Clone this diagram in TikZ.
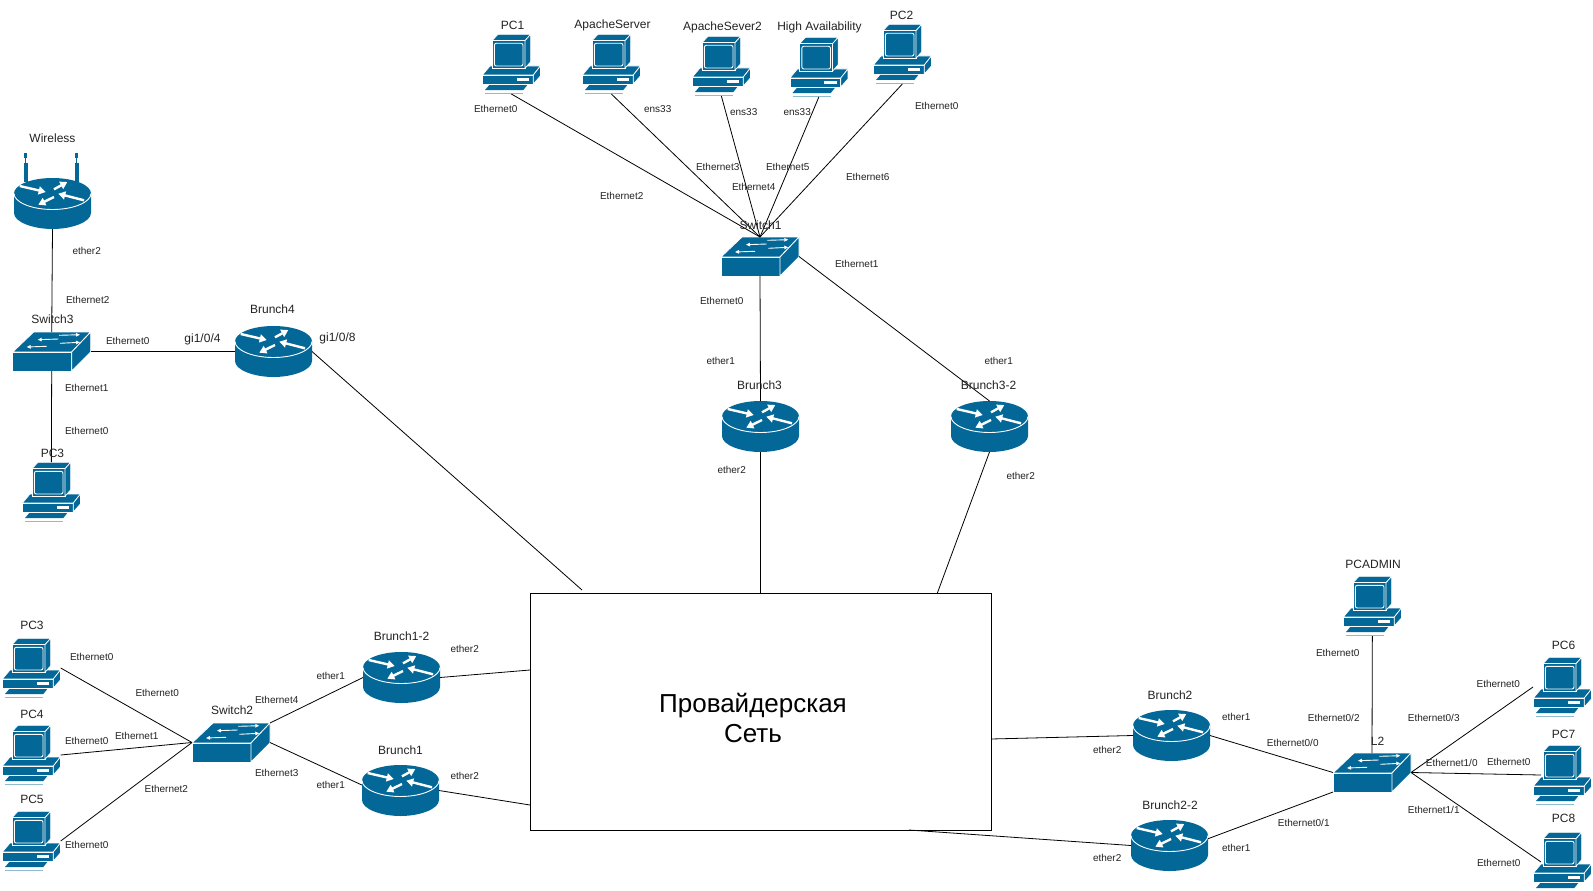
\documentclass[tikz,border=0pt]{standalone}
\usepackage{fontspec}
\setmainfont{Liberation Sans}
\usetikzlibrary{arrows.meta,calc}
\definecolor{cisco}{HTML}{036897}
\definecolor{inktext}{HTML}{222222}
\newcommand{\drawrouter}{%
\fill[cisco] (0,15.5) .. controls (0,7) and (17,0) .. (38.5,0) .. controls (60,0) and (77,7) .. (77,15.5) -- (77,35) .. controls (77,44) and (58,51) .. (38.5,51) .. controls (19,51) and (0,44) .. (0,35) -- cycle;
\draw[white,line width=0.9pt] (0,15.5) .. controls (0,24) and (17,31.5) .. (38.5,31.5) .. controls (60,31.5) and (77,24) .. (77,15.5);
\draw[white,line width=2.4pt,-{Triangle[length=7pt,width=8pt]}] (5.7,8)--(31.7,14);
\draw[white,line width=2.4pt,-{Triangle[length=7pt,width=8pt]}] (40,11.3)--(53.3,4);
\draw[white,line width=2.4pt,-{Triangle[length=7pt,width=8pt]}] (70,22.3)--(44.3,15.7);
\draw[white,line width=2.4pt,-{Triangle[length=7pt,width=8pt]}] (40,19)--(24.3,26.7);}
\newcommand{\drawswitch}{%
\filldraw[cisco,draw=white,line width=0.8pt] (0,20)--(21,0)--(78,0)--(59,20)--cycle;
\filldraw[cisco,draw=white,line width=0.8pt] (0,20) rectangle (59,39);
\filldraw[cisco,draw=white,line width=0.8pt] (59,20)--(78,0)--(78,20)--(59,39)--cycle;
\draw[white,line width=0.9pt,-{Triangle[length=4pt,width=3.5pt]}] (45.7,7)--(25,7.7);
\draw[white,line width=0.9pt,-{Triangle[length=4pt,width=3.5pt]}] (46.3,3.3)--(67.3,2.7);
\draw[white,line width=0.9pt,-{Triangle[length=4pt,width=3.5pt]}] (47.3,11.3)--(67.3,10.3);
\draw[white,line width=0.9pt,-{Triangle[length=4pt,width=3.5pt]}] (34,14.3)--(14,15);}
\newcommand{\drawpc}{%
\filldraw[cisco,draw=white,line width=0.7pt] (0.4,41)--(8,32)--(58.4,32)--(51.3,41)--cycle;
\filldraw[cisco,draw=white,line width=0.7pt] (0.4,41) rectangle (51.3,50);
\filldraw[cisco,draw=white,line width=0.7pt] (51.3,41)--(58.4,32)--(58.4,42)--(51.3,50)--cycle;
\fill[white] (34.7,44.3) rectangle (47.3,46.7);
\fill[cisco] (3,56)--(7.3,51)--(45.3,51)--(41.3,56)--cycle;
\draw[cisco!45,line width=0.7pt] (3,59.3)--(41,59.3);
\filldraw[cisco,draw=white,line width=0.7pt] (10,6.7)--(16,0.3)--(48.7,0.3)--(43,6.7)--cycle;
\filldraw[cisco,draw=white,line width=0.7pt] (10,6.7) rectangle (43,34.3);
\filldraw[cisco,draw=white,line width=0.7pt] (43,6.7)--(48.7,0.3)--(48.7,27.7)--(43,34.3)--cycle;
\draw[white,line width=0.9pt,rounded corners=2pt] (12.3,9.3) rectangle (41,32);}
\tikzset{
pcicon/.pic={\drawpc},routericon/.pic={\drawrouter},switchicon/.pic={\drawswitch},
wifiicon/.pic={\fill[cisco] (9.5,0) rectangle (13,4.5);\fill[cisco] (60.5,0) rectangle (64,4.5);
\fill[cisco] (10.5,4.5) rectangle (12,10);\fill[cisco] (61.5,4.5) rectangle (63,10);
\fill[cisco] (9.5,10) rectangle (13.5,29);\fill[cisco] (60.5,10) rectangle (64.5,29);
\begin{scope}[shift={(0,25)}]\drawrouter\end{scope}},
device/.style={inner sep=0pt,outer sep=0pt,anchor=north west},
pcbox/.style={device,minimum width=58.7pt,minimum height=60pt},
routerbox/.style={device,minimum width=77pt,minimum height=51pt},
switchbox/.style={device,minimum width=78pt,minimum height=39pt},
wifibox/.style={device,minimum width=77pt,minimum height=76pt},
nametext/.style={font=\fontsize{12}{14}\selectfont,text=inktext,inner sep=0pt,xshift=0.5pt,yshift=-0.7pt},
porttext/.style={font=\fontsize{10}{12}\selectfont,text=inktext,inner sep=0pt,xshift=0.7pt,yshift=-0.7pt},
link/.style={draw=black,line width=0.8pt}}
\begin{document}
\begin{tikzpicture}[x=1pt,y=-1pt]
\useasboundingbox (0,0) rectangle (1593,891);
% top row
\node[pcbox] (pc1) at (482,34) {};\pic at (pc1.north west) {pcicon};
\node[pcbox] (apache1) at (582,34) {};\pic at (apache1.north west) {pcicon};
\node[pcbox] (apache2) at (692,36) {};\pic at (apache2.north west) {pcicon};
\node[pcbox] (ha) at (789.5,37) {};\pic at (ha.north west) {pcicon};
\node[pcbox] (pc2) at (873,24) {};\pic at (pc2.north west) {pcicon};
\node[switchbox] (sw1) at (721,237) {};\pic at (sw1.north west) {switchicon};
\node[routerbox] (brunch3) at (722,401) {};\pic at (brunch3.north west) {routericon};
\node[routerbox] (brunch32) at (951,401) {};\pic at (brunch32.north west) {routericon};
% left
\node[wifibox] (wireless) at (14,153) {};\pic at (wireless.north west) {wifiicon};
\node[switchbox] (sw3) at (12.7,332) {};\pic at (sw3.north west) {switchicon};
\node[routerbox] (brunch4) at (235,326) {};\pic at (brunch4.north west) {routericon};
\node[pcbox] (pc3top) at (22,462) {};\pic at (pc3top.north west) {pcicon};
% lower left
\node[pcbox] (pc3) at (2,638) {};\pic at (pc3.north west) {pcicon};
\node[pcbox] (pc4) at (2,725) {};\pic at (pc4.north west) {pcicon};
\node[pcbox] (pc5) at (2,811) {};\pic at (pc5.north west) {pcicon};
\node[switchbox] (sw2) at (192,723) {};\pic at (sw2.north west) {switchicon};
\node[routerbox] (brunch12) at (363,652) {};\pic at (brunch12.north west) {routericon};
\node[routerbox] (brunch1) at (362,765) {};\pic at (brunch1.north west) {routericon};
% provider
\node[draw=black,line width=0.8pt,minimum width=461pt,minimum height=237pt,inner sep=0pt,outer sep=0pt,anchor=north west] (isp) at (530,593) {};
\node[align=center,font=\fontsize{26}{30.5}\selectfont,text=black,inner sep=0pt] (ispname) at (753,718) {Провайдерская\\Сеть};
\coordinate (ispA) at (582,590);
\coordinate (ispB) at (937,594);
\coordinate (ispC) at (530,670);
\coordinate (ispD) at (530,805);
\coordinate (ispE) at (991,739);
\coordinate (ispF) at (909,830);
% lower right
\node[routerbox] (brunch2) at (1133,710) {};\pic at (brunch2.north west) {routericon};
\node[routerbox] (brunch22) at (1131,820) {};\pic at (brunch22.north west) {routericon};
\node[switchbox] (l2) at (1333,753) {};\pic at (l2.north west) {switchicon};
\node[pcbox] (pcadmin) at (1343,576) {};\pic at (pcadmin.north west) {pcicon};
\node[pcbox] (pc6) at (1533,657) {};\pic at (pc6.north west) {pcicon};
\node[pcbox] (pc7) at (1533,745) {};\pic at (pc7.north west) {pcicon};
\node[pcbox] (pc8) at (1533,832) {};\pic at (pc8.north west) {pcicon};
% links
\draw[link] (pc1.south)--(sw1.north);\draw[link] (apache1.south)--(sw1.north);\draw[link] (apache2.south)--(sw1.north);
\draw[link] (ha.south)--(sw1.north);\draw[link] (pc2.south)--(sw1.north);
\draw[link] (sw1.south)--(brunch3.north);\draw[link] (sw1.east)--(brunch32.north);
\draw[link] (brunch3.south)--(isp.north);\draw[link] (brunch32.south)--(ispB);
\draw[link] (wireless.south)--(sw3.north);\draw[link] (sw3.south)--(pc3top.north);\draw[link] (sw3.east)--(brunch4.west);
\draw[link] (brunch4.east)--(ispA);
\draw[link] (pc3.east)--(sw2.west);\draw[link] (pc4.east)--(sw2.west);\draw[link] (pc5.east)--(sw2.west);
\draw[link] (sw2.north east)--(brunch12.west);\draw[link] (sw2.east)--(brunch1.172);
\draw[link] (brunch12.east)--(ispC);\draw[link] (brunch1.east)--(ispD);
\draw[link] (ispE)--(brunch2.west);\draw[link] (ispF)--(brunch22.west);
\draw[link] (brunch2.east)--(l2.west);\draw[link] (brunch22.10)--(l2.south west);
\draw[link] (pcadmin.south)--(l2.north);
\draw[link] (l2.east)--(pc6.west);\draw[link] (l2.east)--($(pc7.west)+(8,0)$);\draw[link] (l2.east)--($(pc8.west)+(8,0)$);
% device names
\node[nametext] (tpc1) at (512,25) {PC1};
\node[nametext] (tapache1) at (612,25) {ApacheServer};
\node[nametext] (tapache2) at (722,27) {ApacheSever2};
\node[nametext] (tha) at (819,27) {High Availability};
\node[nametext] (tpc2) at (901,15) {PC2};
\node[nametext] (tsw1) at (760,225) {Switch1};
\node[nametext] (tbrunch3) at (759,385) {Brunch3};
\node[nametext] (tbrunch32) at (988,385) {Brunch3-2};
\node[nametext] (twireless) at (52,138) {Wireless};
\node[nametext] (tsw3) at (52,319) {Switch3};
\node[nametext] (tbrunch4) at (272,309) {Brunch4};
\node[nametext] (tgifour) at (202,339) {gi1/0/4};
\node[nametext] (tgieight) at (337,338) {gi1/0/8};
\node[nametext] (tpc3top) at (52,453) {PC3};
\node[nametext] (tpc3) at (31.5,625) {PC3};
\node[nametext] (tpc4) at (31.5,714) {PC4};
\node[nametext] (tpc5) at (31.5,799) {PC5};
\node[nametext] (tsw2) at (231.6,710) {Switch2};
\node[nametext] (tbrunch12) at (401,636) {Brunch1-2};
\node[nametext] (tbrunch1) at (400,750) {Brunch1};
\node[nametext] (tpcadmin) at (1372.6,564) {PCADMIN};
\node[nametext] (tbrunch2) at (1169.5,695) {Brunch2};
\node[nametext] (tbrunch22) at (1169.5,805) {Brunch2-2};
\node[nametext] (tltwo) at (1377,741) {L2};
\node[nametext] (tpc6) at (1563,645) {PC6};
\node[nametext] (tpc7) at (1563,734) {PC7};
\node[nametext] (tpc8) at (1563,818) {PC8};
% ports, top
\node[porttext] (ppc1) at (495,108) {Ethernet0};
\node[porttext] (papache1) at (657,108) {ens33};
\node[porttext] (papache2) at (743,111) {ens33};
\node[porttext] (pha) at (796.5,111) {ens33};
\node[porttext] (ppc2) at (936,105.5) {Ethernet0};
\node[porttext] (psw1b) at (621,195) {Ethernet2};
\node[porttext] (psw1c) at (717,166) {Ethernet3};
\node[porttext] (psw1d) at (753,186) {Ethernet4};
\node[porttext] (psw1e) at (787,166) {Ethernet5};
\node[porttext] (psw1f) at (867,176) {Ethernet6};
\node[porttext] (psw1g) at (856,263) {Ethernet1};
\node[porttext] (psw1a) at (721,300) {Ethernet0};
\node[porttext] (pb3a) at (720,360) {ether1};
\node[porttext] (pb32a) at (998,360) {ether1};
\node[porttext] (pb3b) at (731,469) {ether2};
\node[porttext] (pb32b) at (1020,475.5) {ether2};
% ports, left
\node[porttext] (pwifi) at (86,250) {ether2};
\node[porttext] (psw3c) at (87,299) {Ethernet2};
\node[porttext] (psw3a) at (127,340) {Ethernet0};
\node[porttext] (psw3b) at (86,387) {Ethernet1};
\node[porttext] (ppc3top) at (86,430) {Ethernet0};
% ports, lower left
\node[porttext] (ppc3) at (91,656.5) {Ethernet0};
\node[porttext] (psw2a) at (156.5,692) {Ethernet0};
\node[porttext] (ppc4) at (86,740) {Ethernet0};
\node[porttext] (psw2b) at (136,735.5) {Ethernet1};
\node[porttext] (psw2c) at (165.6,788) {Ethernet2};
\node[porttext] (ppc5) at (86,844) {Ethernet0};
\node[porttext] (psw2e) at (276,699) {Ethernet4};
\node[porttext] (psw2d) at (276,772) {Ethernet3};
\node[porttext] (pb12a) at (330,675) {ether1};
\node[porttext] (pb1a) at (330,784) {ether1};
\node[porttext] (pb12b) at (464,648) {ether2};
\node[porttext] (pb1b) at (464,775) {ether2};
% ports, lower right
\node[porttext] (ppcadmin) at (1337,652) {Ethernet0};
\node[porttext] (pb2a) at (1235.5,716) {ether1};
\node[porttext] (pb2b) at (1106.5,749) {ether2};
\node[porttext] (pltwoa) at (1292,742) {Ethernet0/0};
\node[porttext] (pltwoc) at (1333,717) {Ethernet0/2};
\node[porttext] (pltwod) at (1433,717) {Ethernet0/3};
\node[porttext] (pltwoe) at (1451,762) {Ethernet1/0};
\node[porttext] (ppc7) at (1508,761) {Ethernet0};
\node[porttext] (ppc6) at (1497.6,683) {Ethernet0};
\node[porttext] (pltwof) at (1433,809) {Ethernet1/1};
\node[porttext] (ppc8) at (1498,862) {Ethernet0};
\node[porttext] (pltwob) at (1303,822) {Ethernet0/1};
\node[porttext] (pb22a) at (1235.5,847) {ether1};
\node[porttext] (pb22b) at (1106.5,857.5) {ether2};
\end{tikzpicture}
\end{document}
